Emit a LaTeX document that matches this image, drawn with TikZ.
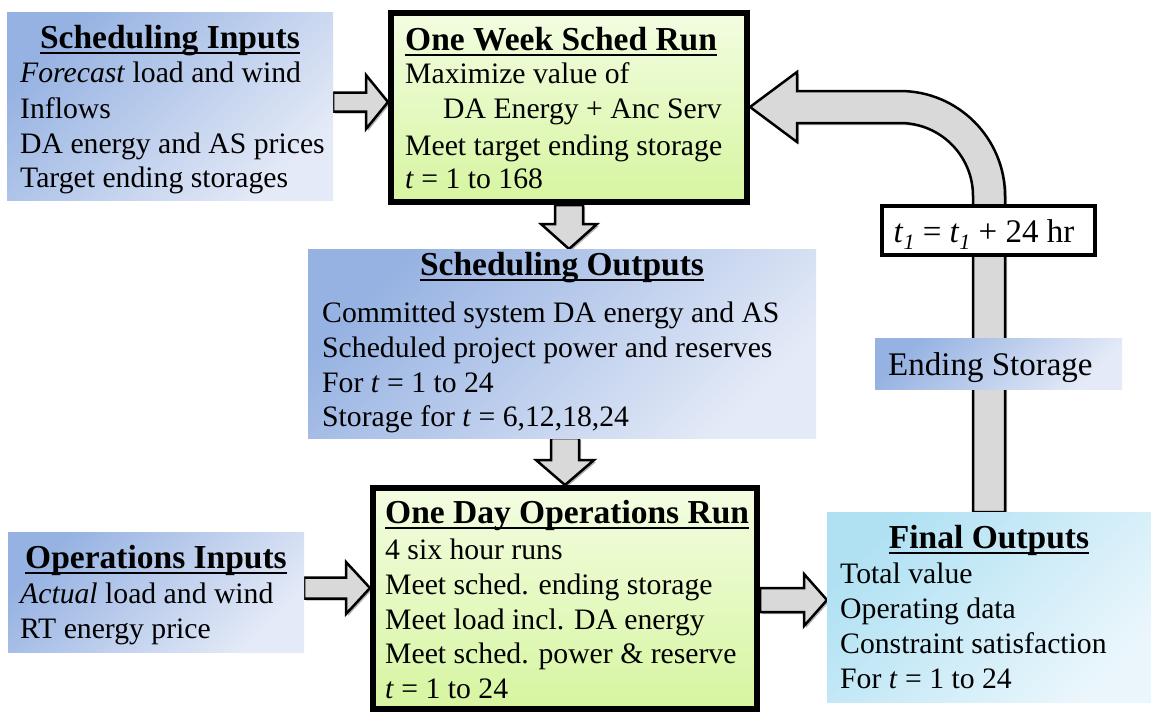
\documentclass[tikz,border=0pt]{standalone}
\usepackage{fontspec}
\setmainfont{Liberation Serif}
\usetikzlibrary{calc,shadows}
\pgfdeclarelayer{bgzero}
\pgfdeclarelayer{background}
\pgfsetlayers{bgzero,background,main}
\definecolor{blueTL}{RGB}{150,178,226}
\definecolor{blueBR}{RGB}{228,234,247}
\definecolor{greenT}{RGB}{243,253,226}
\definecolor{greenB}{RGB}{214,245,160}
\definecolor{cyanTL}{RGB}{176,225,243}
\definecolor{cyanBR}{RGB}{234,246,252}
\definecolor{agray}{RGB}{217,217,217}
\newcommand{\bodyfs}{\fontsize{29.7}{35}\selectfont}
\newcommand{\bigfs}{\fontsize{33}{35}\selectfont}
\newcommand{\ttlfs}{\fontsize{33.5}{35}\selectfont\bfseries}
\newcommand{\myul}[1]{\sbox0{#1}\rlap{\rule[-6pt]{\wd0}{2.4pt}}\usebox0}
\newcommand{\tsub}{\textit{t}\raisebox{-7pt}{\fontsize{22}{22}\selectfont\textit{1}}}
\begin{document}
\begin{tikzpicture}[x=1pt,y=-1pt,
  bluebox/.style={rectangle, draw=none, top color=blueTL, bottom color=blueBR, shading angle=45, inner sep=0, outer sep=0},
  cyanbox/.style={rectangle, draw=none, top color=cyanTL, bottom color=cyanBR, shading angle=45, inner sep=0, outer sep=0},
  greenbox/.style={rectangle, draw=black, line width=6pt, top color=greenT, bottom color=greenB, inner sep=0, outer sep=3pt,
     drop shadow={shadow xshift=3pt, shadow yshift=-3pt, opacity=0.35, fill=black}},
  plainbox/.style={rectangle, draw=black, line width=4pt, fill=white, inner sep=0, outer sep=2pt,
     drop shadow={shadow xshift=2pt, shadow yshift=-2pt, opacity=0.3, fill=black}},
  barrow/.style={draw=black, line width=2.5pt, fill=agray, line join=miter,
     drop shadow={shadow xshift=2pt, shadow yshift=-2pt, opacity=0.3, fill=black}},
  txt/.style={inner sep=0, font=\bodyfs, anchor=base west},
  ttl/.style={inner sep=0, font=\ttlfs}
]
\begin{pgfonlayer}{bgzero}
\fill[white] (0,0) rectangle (1151,713);
\end{pgfonlayer}
\useasboundingbox (0,0) rectangle (1151,713);

% boxes
\node[bluebox, minimum width=326, minimum height=188] (si) at (170,106) {};
\node[greenbox, minimum width=356, minimum height=189] (ow) at (569,107.5) {};
\node[bluebox, minimum width=508, minimum height=189] (so) at (562,343.5) {};
\node[greenbox, minimum width=384, minimum height=221] (od) at (565,598.5) {};
\node[bluebox, minimum width=296, minimum height=120] (oi) at (156,592) {};
\node[cyanbox, minimum width=324, minimum height=190] (fo) at (989,607) {};
\node[plainbox, minimum width=213, minimum height=49] (t1) at (988.5,230.5) {};
\node[bluebox, minimum width=247, minimum height=51] (es) at (998.5,363.5) {};

% arrows
\begin{pgfonlayer}{background}
\coordinate (a1s) at (si.east |- 0,102);
\coordinate (a1e) at (ow.west |- 0,102);
\draw[barrow] ($(a1s)+(0,-9.5)$) -- ($(a1e)+(-22,-9.5)$) -- ($(a1e)+(-22,-27)$) -- (a1e)
  -- ($(a1e)+(-22,27)$) -- ($(a1e)+(-22,9.5)$) -- ($(a1s)+(0,9.5)$) -- cycle;

\coordinate (a2s) at (ow.south);
\coordinate (a2e) at (ow.south |- so.north);
\draw[barrow] ($(a2s)+(-14,0)$) -- ($(a2e)+(-14,-25)$) -- ($(a2e)+(-28,-25)$) -- (a2e)
  -- ($(a2e)+(28,-25)$) -- ($(a2e)+(14,-25)$) -- ($(a2s)+(14,0)$) -- cycle;

\coordinate (a3s) at (od.north |- so.south);
\coordinate (a3e) at (od.north);
\draw[barrow] ($(a3s)+(-14,0)$) -- ($(a3e)+(-14,-25)$) -- ($(a3e)+(-29,-25)$) -- (a3e)
  -- ($(a3e)+(29,-25)$) -- ($(a3e)+(14,-25)$) -- ($(a3s)+(14,0)$) -- cycle;

\coordinate (a4s) at (oi.east |- 0,588);
\coordinate (a4e) at (od.west |- 0,588);
\draw[barrow] ($(a4s)+(0,-10.5)$) -- ($(a4e)+(-24,-10.5)$) -- ($(a4e)+(-24,-26)$) -- (a4e)
  -- ($(a4e)+(-24,26)$) -- ($(a4e)+(-24,10.5)$) -- ($(a4s)+(0,10.5)$) -- cycle;

\coordinate (a5s) at (od.east |- 0,600);
\coordinate (a5e) at (fo.west |- 0,600);
\draw[barrow] ($(a5s)+(0,-12)$) -- ($(a5e)+(-23,-12)$) -- ($(a5e)+(-23,-26)$) -- (a5e)
  -- ($(a5e)+(-23,26)$) -- ($(a5e)+(-23,12)$) -- ($(a5s)+(0,12)$) -- cycle;

\coordinate (ct) at (ow.east |- 0,107);
\coordinate (cb) at (fo.north);
\coordinate (K) at (cb |- ct);
\draw[barrow] (ct) -- ($(ct)+(47,-35)$) -- ($(ct)+(47,-16)$) -- ($(K)+(-89,-16)$)
  .. controls ($(K)+(-31,-16)$) and ($(K)+(16,31)$) .. ($(K)+(16,89)$)
  -- ($(cb)+(16,0)$) -- ($(cb)+(-16,0)$) -- ($(K)+(-16,89)$)
  .. controls ($(K)+(-16,48.7)$) and ($(K)+(-48.7,16)$) .. ($(K)+(-89,16)$)
  -- ($(ct)+(47,16)$) -- ($(ct)+(47,35)$) -- cycle;
\end{pgfonlayer}

% texts
\node[ttl, anchor=base] (si0) at (si.center |- 0,48) {\myul{Scheduling Inputs}};
\node[txt] (si1) at (20,82) {\textit{Forecast} load and wind};
\node[txt] (si2) at (20,118) {Inflows};
\node[txt] (si3) at (20,153) {DA energy and AS prices};
\node[txt] (si4) at (20,187) {Target ending storages};

\node[ttl, anchor=base west] (ow0) at (405,50) {\myul{One Week Sched Run}};
\node[txt] (ow1) at (405,83) {Maximize value of};
\node[txt] (ow2) at (443,118) {DA Energy + Anc Serv};
\node[txt] (ow3) at (405,155) {Meet target ending storage};
\node[txt] (ow4) at (405,188) {\textit{t} = 1 to 168};

\node[ttl, anchor=base] (so0) at (so.center |- 0,275) {\myul{Scheduling Outputs}};
\node[txt] (so1) at (322,322) {Committed system DA energy and AS};
\node[txt] (so2) at (322,357) {Scheduled project power and reserves};
\node[txt] (so3) at (322,392) {For \textit{t} = 1 to 24};
\node[txt] (so4) at (322,426) {Storage for \textit{t} = 6,12,18,24};

\node[ttl, anchor=base] (oi0) at (oi.center |- 0,568) {\myul{Operations Inputs}};
\node[txt] (oi1) at (20,603) {\textit{Actual} load and wind};
\node[txt] (oi2) at (20,638) {RT energy price};

\node[ttl, anchor=base west] (od0) at (385,523) {\myul{One Day Operations Run}};
\node[txt] (od1) at (385,559) {4 six hour runs};
\node[txt] (od2) at (385,594) {Meet sched. ending storage};
\node[txt] (od3) at (385,629) {Meet load incl. DA energy};
\node[txt] (od4) at (385,663) {Meet sched. power \& reserve};
\node[txt] (od5) at (385,698) {\textit{t} = 1 to 24};

\node[ttl, anchor=base] (fo0) at (fo.center |- 0,548) {\myul{Final Outputs}};
\node[txt] (fo1) at (840,583) {Total value};
\node[txt] (fo2) at (840,618) {Operating data};
\node[txt] (fo3) at (840,653) {Constraint satisfaction};
\node[txt] (fo4) at (840,688) {For \textit{t} = 1 to 24};

\node[txt, font=\bigfs, anchor=base] (t1t) at (984,242) {\tsub{} = \tsub{} + 24 hr};
\node[txt, font=\bigfs] (est) at (888,375) {Ending Storage};
\end{tikzpicture}
\end{document}
